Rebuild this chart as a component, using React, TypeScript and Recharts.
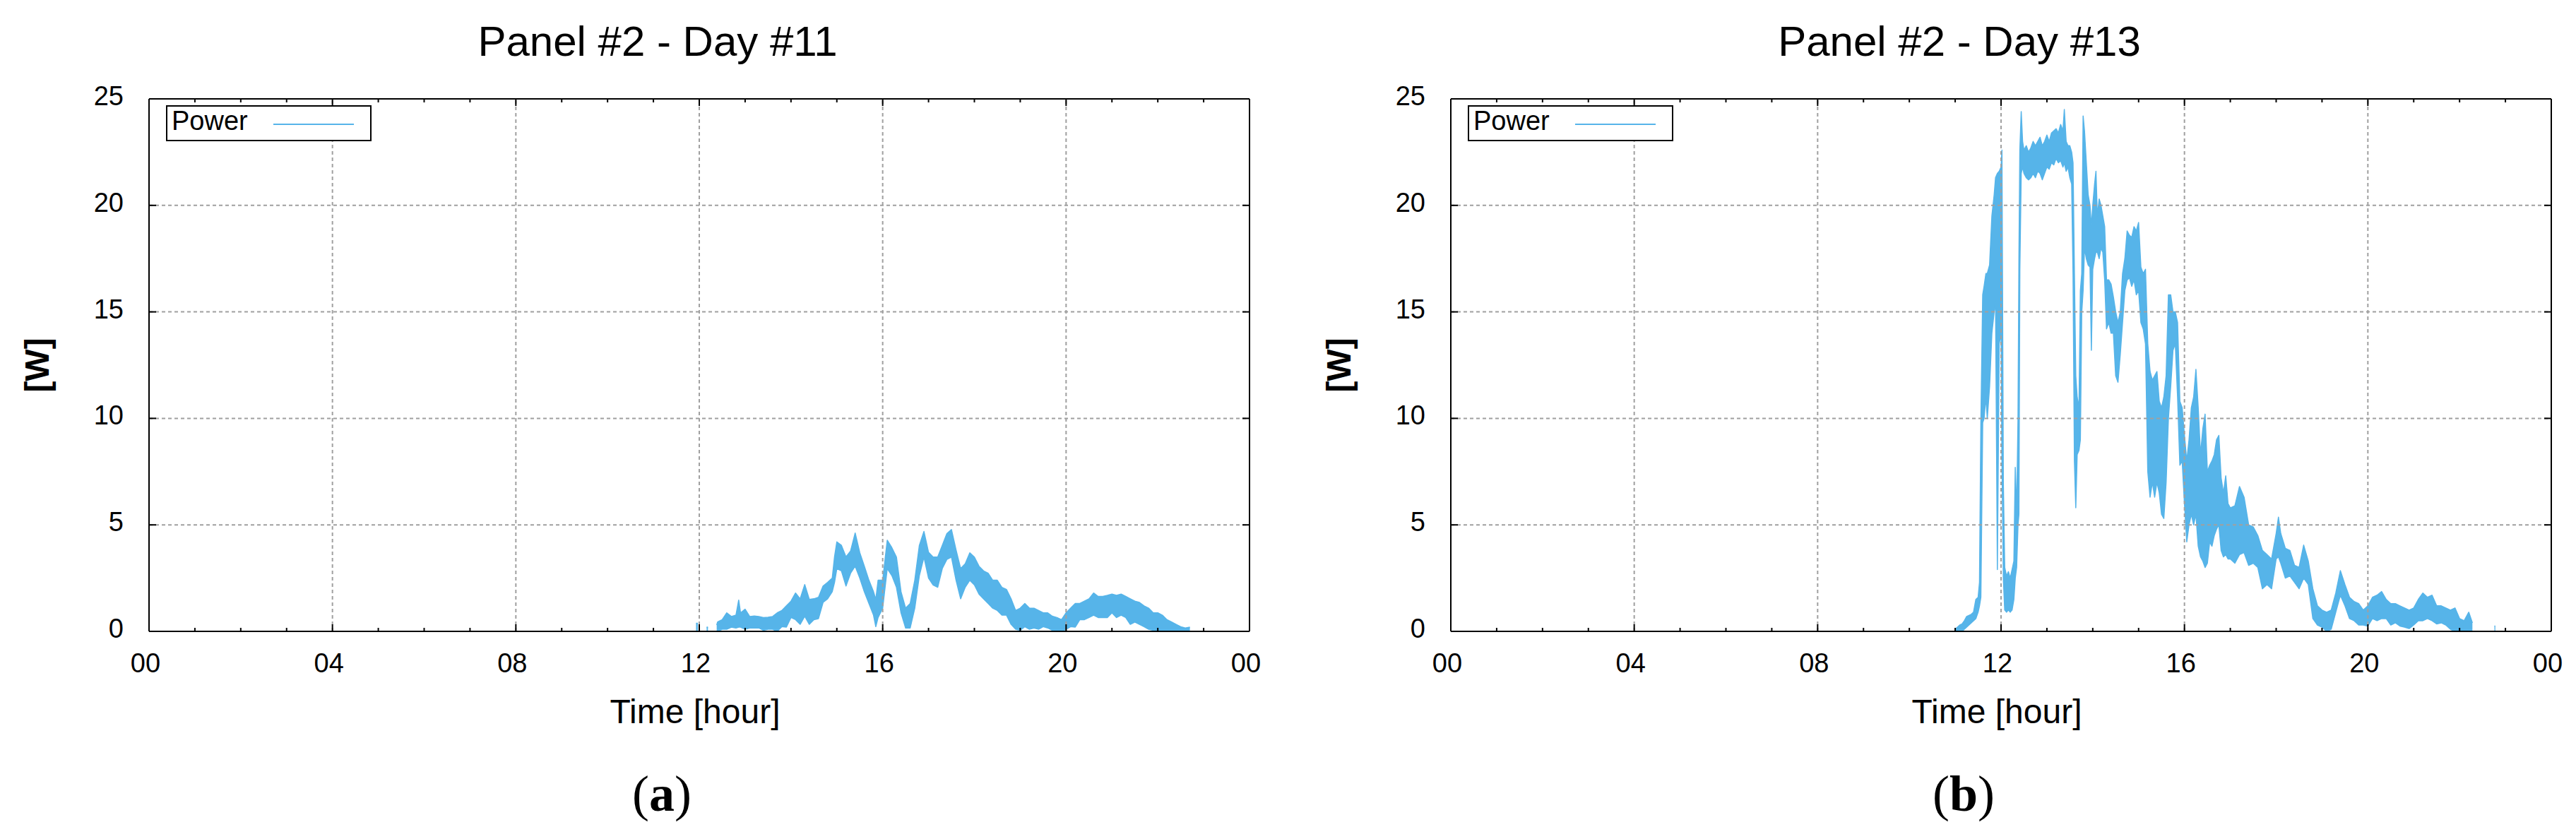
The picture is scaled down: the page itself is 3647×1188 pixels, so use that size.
import React from 'react';
import { ComposedChart, Area, XAxis, YAxis, ReferenceLine } from 'recharts';

// ---------- data ----------
// each sample: [hour, lower edge of the noisy trace (W), upper edge (W)]; null = no data (gap)
type Sample = [number, number | null, number | null];

const day11Power: Sample[] = [
  [0, 0, 0], [10.78, 0, 0], [10.8, null, null],
  [11.93, 0, 0.38], [11.97, 0, 0.38], [12.0, null, null],
  [12.16, 0, 0.2], [12.19, 0, 0.2], [12.2, null, null],
  [12.38, 0, 0.3], [12.4, 0, 0.44], [12.5, 0.1, 0.55], [12.6, 0.1, 0.87], [12.7, 0.2, 0.7],
  [12.8, 0.16, 0.76], [12.86, 0.2, 1.47], [12.9, 0.2, 0.87], [13.0, 0.1, 1.04], [13.1, 0.16, 0.7],
  [13.2, 0.16, 0.72], [13.3, 0.16, 0.7], [13.4, 0.05, 0.65], [13.5, 0.1, 0.66], [13.6, 0.1, 0.7],
  [13.7, 0, 0.87], [13.8, 0.22, 0.98], [13.9, 0.2, 1.2], [14.0, 0.65, 1.42], [14.1, 0.55, 1.8],
  [14.2, 0.33, 1.53], [14.3, 0.71, 2.2], [14.4, 0.33, 1.5], [14.5, 0.55, 1.53], [14.6, 0.6, 1.6],
  [14.7, 1.36, 2.13], [14.8, 1.53, 2.3], [14.9, 1.86, 2.5], [14.95, 2.3, 3.5], [15.0, 2.95, 4.2],
  [15.1, 2.84, 4.04], [15.2, 2.13, 3.5], [15.3, 2.73, 3.77], [15.4, 3.06, 4.62], [15.5, 2.5, 3.7],
  [15.6, 1.86, 3.06], [15.7, 1.31, 2.4], [15.8, 0.76, 1.86], [15.85, 0.22, 1.5], [15.9, 0.65, 2.4],
  [16.0, 1.09, 2.4], [16.1, 2.95, 4.28], [16.2, 2.62, 3.93], [16.3, 2.07, 3.49], [16.4, 0.87, 1.86],
  [16.5, 0.16, 1.09], [16.6, 0.16, 1.31], [16.7, 1.09, 2.4], [16.8, 2.62, 4.04], [16.9, 3.49, 4.69],
  [17.0, 2.5, 3.71], [17.1, 2.18, 3.49], [17.2, 2.07, 3.49], [17.3, 2.95, 4.04], [17.4, 3.38, 4.59],
  [17.5, 3.49, 4.78], [17.6, 2.4, 3.82], [17.7, 1.53, 2.95], [17.8, 2.07, 3.17], [17.9, 2.4, 3.69],
  [18.0, 2.18, 3.49], [18.1, 1.75, 3.06], [18.2, 1.53, 2.84], [18.3, 1.31, 2.73], [18.4, 1.09, 2.4],
  [18.5, 0.98, 2.4], [18.6, 0.76, 2.07], [18.7, 0.76, 1.97], [18.8, 0.33, 1.53], [18.9, 0.1, 0.98],
  [19.0, 0.05, 1.09], [19.1, 0.22, 1.31], [19.2, 0.1, 1.09], [19.3, 0.16, 1.09], [19.4, 0.1, 0.98],
  [19.5, 0.22, 0.87], [19.6, 0.16, 0.87], [19.7, 0.05, 0.71], [19.8, 0.05, 0.65], [19.9, 0, 0.55],
  [20.0, 0.1, 0.87], [20.1, 0.22, 1.09], [20.2, 0.2, 1.31], [20.3, 0.55, 1.31], [20.4, 0.55, 1.42],
  [20.5, 0.65, 1.53], [20.6, 0.76, 1.8], [20.7, 0.65, 1.64], [20.8, 0.65, 1.64], [20.9, 0.65, 1.69],
  [21.0, 0.87, 1.75], [21.1, 0.65, 1.69], [21.2, 0.76, 1.75], [21.3, 0.65, 1.64], [21.4, 0.33, 1.53],
  [21.5, 0.44, 1.42], [21.6, 0.33, 1.36], [21.7, 0.22, 1.2], [21.8, 0.1, 1.09], [21.9, 0.05, 0.87],
  [22.0, 0, 0.87], [22.1, 0, 0.76], [22.2, 0, 0.55], [22.3, 0, 0.44], [22.4, 0, 0.33],
  [22.5, 0, 0.22], [22.6, 0, 0.16], [22.7, 0, 0.2], [22.75, null, null],
  [23.46, 0, 0], [24, 0, 0],
];

const day13Power: Sample[] = [
  [0, 0, 0], [10.62, 0, 0], [10.65, null, null],
  [11.0, 0, 0.1], [11.05, 0, 0.2], [11.1, 0, 0.3], [11.15, 0, 0.35], [11.2, 0.1, 0.5],
  [11.25, 0.2, 0.7], [11.3, 0.3, 0.75], [11.35, 0.4, 0.8], [11.4, 0.5, 0.9], [11.45, 0.6, 1.5],
  [11.5, 0.9, 1.6], [11.53, 1.2, 2.3], [11.56, 1.6, 9.8], [11.6, 9.8, 15.8], [11.63, 10.0, 16.2],
  [11.67, 11.0, 16.8], [11.7, 10.0, 16.8], [11.75, 11.5, 17.2], [11.8, 14.0, 19.5], [11.85, 15.0, 20.5],
  [11.88, 15.5, 21.3], [11.92, 2.9, 21.5], [11.96, 13.5, 21.6], [12.0, 14.0, 21.8], [12.02, 8.0, 22.6],
  [12.05, 2.5, 7.0], [12.08, 1.0, 3.0], [12.12, 0.9, 2.6], [12.16, 1.0, 2.8], [12.2, 0.9, 2.5],
  [12.24, 1.0, 2.9], [12.28, 1.5, 3.3], [12.31, 2.5, 7.7], [12.34, 3.0, 5.5], [12.37, 5.0, 10.0],
  [12.39, 5.5, 17.5], [12.41, 17.0, 22.6], [12.44, 21.5, 24.4], [12.47, 21.8, 23.0], [12.5, 21.5, 22.6],
  [12.55, 21.3, 22.8], [12.6, 21.2, 22.5], [12.65, 21.3, 22.7], [12.7, 21.5, 23.0], [12.75, 21.3, 22.8],
  [12.8, 21.6, 23.0], [12.85, 21.5, 23.2], [12.9, 21.2, 22.8], [12.95, 21.5, 23.0], [13.0, 21.8, 23.3],
  [13.05, 21.7, 23.0], [13.1, 22.0, 23.4], [13.15, 21.9, 23.5], [13.2, 22.2, 23.6], [13.25, 22.0, 23.4],
  [13.3, 22.1, 23.8], [13.35, 21.8, 23.5], [13.38, 22.0, 24.5], [13.42, 21.6, 23.0], [13.46, 21.8, 22.8],
  [13.5, 21.3, 22.8], [13.54, 21.0, 22.5], [13.57, 16.8, 22.0], [13.6, 8.0, 16.8], [13.63, 5.8, 12.0],
  [13.66, 8.3, 11.0], [13.7, 8.5, 10.5], [13.73, 9.0, 16.0], [13.76, 15.0, 16.8], [13.79, 16.0, 24.2],
  [13.82, 18.0, 23.5], [13.86, 17.5, 22.0], [13.9, 17.2, 20.5], [13.94, 17.1, 20.0], [13.97, 13.2, 19.0],
  [14.0, 17.0, 20.0], [14.04, 17.5, 21.0], [14.07, 17.8, 21.6], [14.1, 17.8, 19.5], [14.14, 17.5, 20.3],
  [14.18, 18.0, 20.0], [14.22, 17.8, 19.5], [14.26, 16.5, 19.0], [14.3, 14.2, 16.5], [14.35, 14.5, 16.5],
  [14.4, 14.0, 16.3], [14.45, 14.0, 15.7], [14.5, 12.0, 15.0], [14.55, 11.7, 14.5], [14.6, 13.0, 15.0],
  [14.65, 14.5, 16.8], [14.7, 16.0, 17.5], [14.75, 16.5, 18.8], [14.8, 16.6, 18.6], [14.85, 16.2, 18.5],
  [14.9, 16.5, 19.0], [14.95, 15.8, 18.8], [15.0, 16.0, 19.2], [15.05, 14.5, 17.1], [15.1, 14.2, 16.8],
  [15.15, 13.5, 17.0], [15.2, 7.5, 13.5], [15.25, 6.3, 12.2], [15.3, 7.0, 11.8], [15.35, 6.3, 12.0],
  [15.4, 7.0, 12.2], [15.45, 6.5, 10.8], [15.5, 5.5, 10.5], [15.55, 5.3, 11.0], [15.6, 7.0, 12.0],
  [15.65, 10.0, 15.8], [15.7, 11.5, 15.8], [15.75, 13.2, 15.0], [15.8, 13.5, 15.0], [15.85, 11.0, 14.5],
  [15.9, 7.8, 10.8], [15.95, 8.0, 10.5], [16.0, 6.0, 9.2], [16.05, 4.2, 8.0], [16.1, 5.0, 9.0],
  [16.15, 5.5, 10.5], [16.2, 5.0, 11.0], [16.25, 5.5, 12.3], [16.3, 4.0, 10.5], [16.35, 3.5, 8.3],
  [16.4, 3.3, 9.5], [16.45, 3.0, 10.2], [16.5, 3.2, 7.5], [16.55, 4.2, 7.8], [16.6, 4.0, 8.0],
  [16.65, 4.5, 8.3], [16.7, 4.8, 9.0], [16.75, 5.0, 9.2], [16.8, 3.8, 7.2], [16.85, 3.5, 6.5],
  [16.9, 3.6, 7.3], [16.95, 3.4, 6.0], [17.0, 3.4, 5.8], [17.1, 3.2, 5.9], [17.2, 3.6, 6.8],
  [17.3, 3.7, 6.3], [17.4, 3.1, 5.0], [17.5, 3.2, 4.9], [17.6, 3.0, 4.5], [17.7, 2.0, 3.8],
  [17.8, 2.2, 3.6], [17.9, 2.0, 3.4], [18.0, 3.4, 4.6], [18.05, 3.5, 5.36], [18.1, 3.2, 4.6],
  [18.2, 2.5, 3.9], [18.3, 2.6, 3.8], [18.4, 2.3, 3.1], [18.5, 2.0, 3.0], [18.6, 2.5, 4.05],
  [18.7, 2.2, 3.3], [18.8, 0.6, 2.0], [18.9, 0.3, 1.2], [19.0, 0.2, 1.0], [19.1, 0, 0.9],
  [19.2, 0.1, 1.0], [19.3, 0.9, 1.8], [19.4, 1.7, 2.85], [19.5, 1.2, 2.2], [19.6, 0.6, 1.6],
  [19.7, 0.5, 1.4], [19.8, 0.3, 1.3], [19.9, 0.3, 1.0], [20.0, 0.25, 1.2], [20.1, 0.6, 1.6],
  [20.2, 0.5, 1.7], [20.3, 0.6, 1.87], [20.4, 0.6, 1.5], [20.5, 0.3, 1.3], [20.6, 0.4, 1.3],
  [20.7, 0.25, 1.2], [20.8, 0.2, 1.1], [20.9, 0.13, 1.0], [21.0, 0.3, 1.1], [21.1, 0.5, 1.5],
  [21.2, 0.5, 1.8], [21.3, 0.6, 1.6], [21.4, 0.5, 1.7], [21.5, 0.35, 1.2], [21.6, 0.4, 1.2],
  [21.7, 0.3, 1.1], [21.8, 0.1, 1.0], [21.9, 0, 1.1], [22.0, 0, 0.6], [22.1, 0, 0.5],
  [22.2, 0, 0.9], [22.28, 0, 0.4], [22.3, null, null],
  [22.76, 0, 0.25], [22.78, 0, 0.25], [22.8, null, null],
  [23.42, 0, 0], [24, 0, 0],
];

const hourTicks = [0, 1, 2, 3, 4, 5, 6, 7, 8, 9, 10, 11, 12, 13, 14, 15, 16, 17, 18, 19, 20, 21, 22, 23, 24];
const majorHours = [0, 4, 8, 12, 16, 20, 24];
const hourLabels = ['00', '04', '08', '12', '16', '20', '00'];
const powerTicks = [0, 5, 10, 15, 20, 25];
const powerLabels = ['0', '5', '10', '15', '20', '25'];
const gridHours = [4, 8, 12, 16, 20];
const gridPowers = [5, 10, 15, 20];

const panelTitles = ['Panel #2 - Day #11', 'Panel #2 - Day #13'];
const panelCaptions = ['a', 'b'];
const seriesName = 'Power';
const xAxisTitle = 'Time [hour]';
const yAxisTitle = '[W]';

// ---------- styles ----------
const FONT = '"Liberation Sans", Arial, Helvetica, sans-serif';
const SERIF = '"Liberation Serif", "Times New Roman", serif';
const BLUE = '#56B4E9';
const GRID = '#a0a0a0';

const PLOT_TOP = 140;
const PLOT_BOTTOM = 894;
const PAGE_H = 1188;
const AX = 1; // thickness of the (invisible) axis boxes

const BottomTick = (props: any) => {
  const { x, y, payload } = props;
  const idx = majorHours.indexOf(payload.value);
  const major = idx >= 0;
  return (
    <g>
      <line x1={x} x2={x} y1={y} y2={y - (major ? 10 : 5)} stroke="#000" strokeWidth={2} />
      {major && (
        <text x={x - 5} y={y + 58} textAnchor="middle" fontSize={38} fontFamily={FONT} fill="#000">
          {hourLabels[idx]}
        </text>
      )}
    </g>
  );
};

const TopTick = (props: any) => {
  const { x, y, payload } = props;
  const major = majorHours.indexOf(payload.value) >= 0;
  return <line x1={x} x2={x} y1={y} y2={y + (major ? 10 : 5)} stroke="#000" strokeWidth={2} />;
};

const LeftTick = (props: any) => {
  const { x, y, payload } = props;
  const idx = powerTicks.indexOf(payload.value);
  return (
    <g>
      <line x1={x} x2={x + 10} y1={y} y2={y} stroke="#000" strokeWidth={2} />
      <text x={x - 36} y={y + 9} textAnchor="end" fontSize={38} fontFamily={FONT} fill="#000">
        {powerLabels[idx]}
      </text>
    </g>
  );
};

const RightTick = (props: any) => {
  const { x, y } = props;
  return <line x1={x} x2={x - 10} y1={y} y2={y} stroke="#000" strokeWidth={2} />;
};

type PanelProps = {
  left: number;
  width: number;
  plotLeft: number;
  plotRight: number;
  samples: Sample[];
};

function Panel({ left, width, plotLeft, plotRight, samples }: PanelProps) {
  const rows = samples.map(([t, lo, hi]) => ({ t, range: [lo, hi] }));
  const axisLine = { stroke: '#000', strokeWidth: 2 };
  return (
    <div style={{ position: 'absolute', left, top: 0 }}>
      <ComposedChart
        width={width}
        height={PAGE_H}
        data={rows}
        margin={{
          top: PLOT_TOP - AX,
          right: width - (plotRight - left) - AX,
          bottom: PAGE_H - PLOT_BOTTOM - AX,
          left: plotLeft - left - AX,
        }}
      >
        <XAxis
          xAxisId="b" type="number" dataKey="t" domain={[0, 24]} ticks={hourTicks} interval={0}
          height={AX} tickSize={0} tickMargin={0} tickLine={false} axisLine={axisLine}
          tick={BottomTick} allowDataOverflow
        />
        <XAxis
          xAxisId="t" orientation="top" type="number" dataKey="t" domain={[0, 24]} ticks={hourTicks} interval={0}
          height={AX} tickSize={0} tickMargin={0} tickLine={false} axisLine={axisLine}
          tick={TopTick} allowDataOverflow
        />
        <YAxis
          yAxisId="l" type="number" domain={[0, 25]} ticks={powerTicks} interval={0}
          width={AX} tickSize={0} tickMargin={0} tickLine={false} axisLine={axisLine}
          tick={LeftTick} allowDataOverflow
        />
        <YAxis
          yAxisId="r" orientation="right" type="number" domain={[0, 25]} ticks={powerTicks} interval={0}
          width={AX} tickSize={0} tickMargin={0} tickLine={false} axisLine={axisLine}
          tick={RightTick} allowDataOverflow
        />
        <ReferenceLine xAxisId="b" yAxisId="l" y={0} stroke={GRID} strokeWidth={2} strokeDasharray="5 4" />
        <Area
          xAxisId="b" yAxisId="l" dataKey="range" name={seriesName} type="linear"
          stroke={BLUE} strokeWidth={1.5} strokeLinejoin="round" fill={BLUE} fillOpacity={1}
          connectNulls={false} dot={false} activeDot={false} isAnimationActive={false}
        />
        {gridHours.map((h) => (
          <ReferenceLine key={'gx' + h} xAxisId="b" yAxisId="l" x={h} stroke={GRID} strokeWidth={2} strokeDasharray="5 4" />
        ))}
        {gridPowers.map((p) => (
          <ReferenceLine key={'gy' + p} xAxisId="b" yAxisId="l" y={p} stroke={GRID} strokeWidth={2} strokeDasharray="5 4" />
        ))}
      </ComposedChart>
    </div>
  );
}

function Texts({ plotLeft, index }: { plotLeft: number; index: number }) {
  const yMid = (PLOT_TOP + PLOT_BOTTOM) / 2;
  return (
    <g>
      <text x={plotLeft + 720} y={79} textAnchor="middle" fontSize={60} fontFamily={FONT} fill="#000">
        {panelTitles[index]}
      </text>
      <text x={plotLeft + 773} y={1024} textAnchor="middle" fontSize={48} fontFamily={FONT} fill="#000">
        {xAxisTitle}
      </text>
      <text
        transform={`translate(${plotLeft - 159},${yMid}) rotate(-90)`}
        textAnchor="middle" dominantBaseline="central" fontSize={48} fontWeight="bold" fontFamily={FONT} fill="#000"
      >
        {yAxisTitle}
      </text>
      <text x={plotLeft + 726} y={1148} textAnchor="middle" fontSize={72} fontFamily={SERIF} fill="#000">
        (<tspan fontWeight="bold">{panelCaptions[index]}</tspan>)
      </text>
      {/* legend */}
      <rect x={plotLeft + 25} y={150} width={289} height={49} fill="#fff" stroke="#000" strokeWidth={2} />
      <text x={plotLeft + 32} y={184} fontSize={38} fontFamily={FONT} fill="#000">{seriesName}</text>
      <line x1={plotLeft + 176} x2={plotLeft + 290} y1={176} y2={176} stroke={BLUE} strokeWidth={2} />
    </g>
  );
}

export default function App() {
  return (
    <div style={{ position: 'absolute', left: 0, top: 0, width: 3647, height: PAGE_H, background: '#fff', overflow: 'hidden' }}>
      <Panel left={0} width={1860} plotLeft={211} plotRight={1769} samples={day11Power} />
      <Panel left={1860} width={1787} plotLeft={2054} plotRight={3612} samples={day13Power} />
      <svg width={3647} height={PAGE_H} style={{ position: 'absolute', left: 0, top: 0, pointerEvents: 'none' }}>
        <Texts plotLeft={211} index={0} />
        <Texts plotLeft={2054} index={1} />
      </svg>
    </div>
  );
}
